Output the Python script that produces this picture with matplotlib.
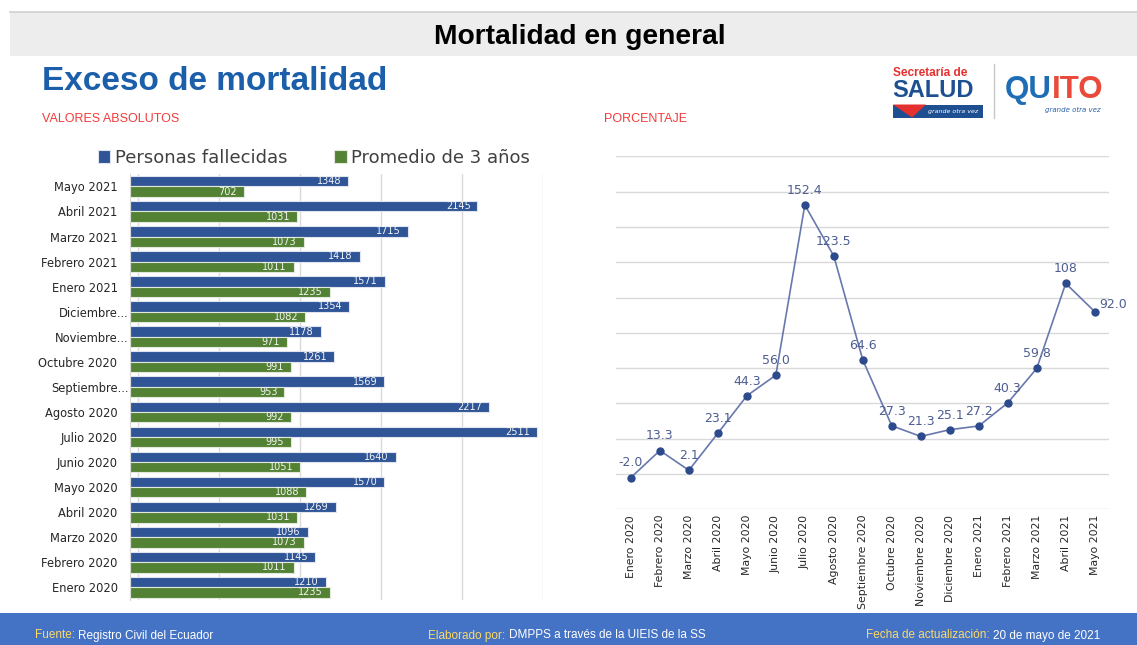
import matplotlib
matplotlib.use('Agg')
import matplotlib.pyplot as plt
from matplotlib.patches import Rectangle, Polygon
from matplotlib.transforms import ScaledTranslation
import numpy as np

# datos
meses = ['Enero 2020', 'Febrero 2020', 'Marzo 2020', 'Abril 2020', 'Mayo 2020', 'Junio 2020',
         'Julio 2020', 'Agosto 2020', 'Septiembre 2020', 'Octubre 2020', 'Noviembre 2020',
         'Diciembre 2020', 'Enero 2021', 'Febrero 2021', 'Marzo 2021', 'Abril 2021', 'Mayo 2021']
etiquetas_barras = ['Enero 2020', 'Febrero 2020', 'Marzo 2020', 'Abril 2020', 'Mayo 2020', 'Junio 2020',
                    'Julio 2020', 'Agosto 2020', 'Septiembre...', 'Octubre 2020', 'Noviembre...',
                    'Diciembre...', 'Enero 2021', 'Febrero 2021', 'Marzo 2021', 'Abril 2021', 'Mayo 2021']
fallecidas = [1210, 1145, 1096, 1269, 1570, 1640, 2511, 2217, 1569, 1261, 1178, 1354, 1571, 1418, 1715, 2145, 1348]
promedio = [1235, 1011, 1073, 1031, 1088, 1051, 995, 992, 953, 991, 971, 1082, 1235, 1011, 1073, 1031, 702]
exceso = [-2.0, 13.3, 2.1, 23.1, 44.3, 56.0, 152.4, 123.5, 64.6, 27.3, 21.3, 25.1, 27.2, 40.3, 59.8, 108, 92.0]
exceso_txt = ['-2.0', '13.3', '2.1', '23.1', '44.3', '56.0', '152.4', '123.5', '64.6', '27.3',
              '21.3', '25.1', '27.2', '40.3', '59.8', '108', '92.0']

AZUL = '#2f5597'
VERDE = '#548235'
W, H = 1137, 645

fig = plt.figure(figsize=(W / 100, H / 100), dpi=100)

# fondo en pixeles
ax0 = fig.add_axes([0, 0, 1, 1], zorder=-1)
ax0.set_xlim(0, W)
ax0.set_ylim(H, 0)
ax0.axis('off')

ax0.add_patch(Rectangle((10, 12), W - 10, 44, color='#ededed', lw=0))
ax0.plot([10, W], [11.5, 11.5], color='#cfcfcf', lw=1.2)
ax0.text(580, 44.5, 'Mortalidad en general', ha='center', va='baseline', fontsize=20.3,
         weight='bold', family='Liberation Sans', color='black')
ax0.text(42, 89.5, 'Exceso de mortalidad', ha='left', va='baseline', fontsize=24,
         weight='bold', family='Liberation Sans', color='#1b5fab')
ax0.text(42, 121.5, 'VALORES ABSOLUTOS', ha='left', va='baseline', fontsize=9,
         family='Liberation Sans', color='#f23a3a')
ax0.text(604, 121.5, 'PORCENTAJE', ha='left', va='baseline', fontsize=9,
         family='Liberation Sans', color='#f23a3a')

# logos (aproximados)
ax0.text(893, 76.5, 'Secretaría de', ha='left', va='baseline', fontsize=8.5, weight='bold',
         family='Liberation Sans', color='#e4312f')
ax0.text(892, 97, 'SALUD', ha='left', va='baseline', fontsize=17, weight='bold',
         family='Liberation Sans', color='#1d4f91')
ax0.add_patch(Rectangle((893, 104.5), 90, 13, color='#1d4f91', lw=0))
ax0.add_patch(Polygon([(893, 104.5), (926, 104.5), (912, 117.5)], color='#e4312f', lw=0))
ax0.text(953, 112, 'grande otra vez', ha='center', va='center', fontsize=4.5, style='italic',
         color='white')
ax0.plot([994.3, 994.3], [64, 118], color='#c8c8c8', lw=1)
q = ax0.text(1005, 98, 'QU', ha='left', va='baseline', fontsize=22.5, weight='bold',
             family='Liberation Sans', color='#1f6db5')
ax0.annotate('ITO', xy=(1, 0), xycoords=q, ha='left', va='bottom', fontsize=22.5, weight='bold',
             family='Liberation Sans', color='#ea4a3a')
ax0.text(1073, 110, 'grande otra vez', ha='center', va='center', fontsize=5, style='italic',
         color='#2a5fa8')

# pie de pagina
ax0.add_patch(Rectangle((0, 613), W, H - 613, color='#4472c4', lw=0))
pie = [(35, 'Fuente:', 'Registro Civil del Ecuador'),
       (428, 'Elaborado por:', 'DMPPS a través de la UIEIS de la SS'),
       (866, 'Fecha de actualización:', '20 de mayo de 2021')]
etiquetas_pie = []
for x0, etiqueta, resto in pie:
    t = ax0.text(x0, 638.5, etiqueta, ha='left', va='baseline', fontsize=8.5,
                 family='Liberation Sans', color='#ffd966')
    etiquetas_pie.append((t, resto))
fig.canvas.draw()
renderer = fig.canvas.get_renderer()
for t, resto in etiquetas_pie:
    bb = t.get_window_extent(renderer)
    x_fin = ax0.transData.inverted().transform((bb.x1, bb.y0))[0]
    ax0.text(x_fin + 3.5, 638.5, resto, ha='left', va='baseline', fontsize=8.5,
             family='Liberation Sans', color='white')

# grafico de barras
ax1 = fig.add_axes([130 / W, 1 - 599.8 / H, 413.1 / W, 425.9 / H])
y = np.arange(len(meses))
h = 0.415
b1 = ax1.barh(y + h / 2, fallecidas, height=h, color=AZUL, edgecolor='#dfe4ee', linewidth=0.8,
              label='Personas fallecidas')
b2 = ax1.barh(y - h / 2, promedio, height=h, color=VERDE, edgecolor='#e2e8dc', linewidth=0.8,
              label='Promedio de 3 años')
for i in range(len(meses)):
    ax1.annotate(str(fallecidas[i]), (fallecidas[i], y[i] + h / 2), xytext=(-5, 0),
                 textcoords='offset points', ha='right', va='center', color='#f4f4f4', fontsize=7)
    ax1.annotate(str(promedio[i]), (promedio[i], y[i] - h / 2), xytext=(-5, 0),
                 textcoords='offset points', ha='right', va='center', color='#f4f4f4', fontsize=7)

ax1.set_xlim(0, 2550)
ax1.set_ylim(-0.5, len(meses) - 0.5)
ax1.set_xticks(np.arange(48, 2600, 500))
ax1.grid(axis='x', color='#d9d9d9', lw=1)
ax1.set_axisbelow(True)
ax1.tick_params(axis='x', length=0, labelbottom=False)
ax1.set_yticks(y, etiquetas_barras, fontsize=8.3, color='#262626')
ax1.tick_params(axis='y', length=0, pad=9)
for lbl in ax1.get_yticklabels():
    if lbl.get_text().endswith('...'):
        lbl.set_transform(lbl.get_transform() + ScaledTranslation(8 / 72, 0, fig.dpi_scale_trans))
for s in ['top', 'right', 'bottom']:
    ax1.spines[s].set_visible(False)
ax1.spines['left'].set_color('#d9d9d9')
ax1.legend(loc='lower center', bbox_to_anchor=(0.445, 1.0), ncol=2, frameon=False, fontsize=13,
           handlelength=0.7, handleheight=0.7, handletextpad=0.25, columnspacing=2.6,
           borderaxespad=0.2, borderpad=0.2, labelcolor='#404040')

# grafico de lineas
ax2 = fig.add_axes([616.4 / W, 1 - 509.3 / H, 492.8 / W, 353 / H])
x = np.arange(len(meses))
ax2.plot(x, exceso, color='#6878ad', lw=1.2, marker='o', ms=5, mfc='#2c4a8c', mec='#2c4a8c')
for i in range(len(meses)):
    if i == len(meses) - 1:
        ax2.annotate(exceso_txt[i], (x[i], exceso[i]), xytext=(3, 2.5), textcoords='offset points',
                     ha='left', va='baseline', fontsize=9, color='#4d5d92')
    else:
        ax2.annotate(exceso_txt[i], (x[i], exceso[i]), xytext=(0, 8), textcoords='offset points',
                     ha='center', va='baseline', fontsize=9, color='#4d5d92')
ax2.set_xlim(-0.5, len(meses) - 0.5)
ax2.set_ylim(-20, 180)
ax2.set_yticks(np.arange(-20, 181, 20))
ax2.grid(axis='y', color='#d9d9d9', lw=1)
ax2.set_axisbelow(True)
ax2.tick_params(axis='y', length=0, labelleft=False)
ax2.set_xticks(x, meses, rotation=90, fontsize=7.8, color='#262626')
ax2.tick_params(axis='x', length=0, pad=4)
for s in ['top', 'right', 'left', 'bottom']:
    ax2.spines[s].set_visible(False)
ax2.patch.set_alpha(0)

fig.savefig('out.png', dpi=100)
